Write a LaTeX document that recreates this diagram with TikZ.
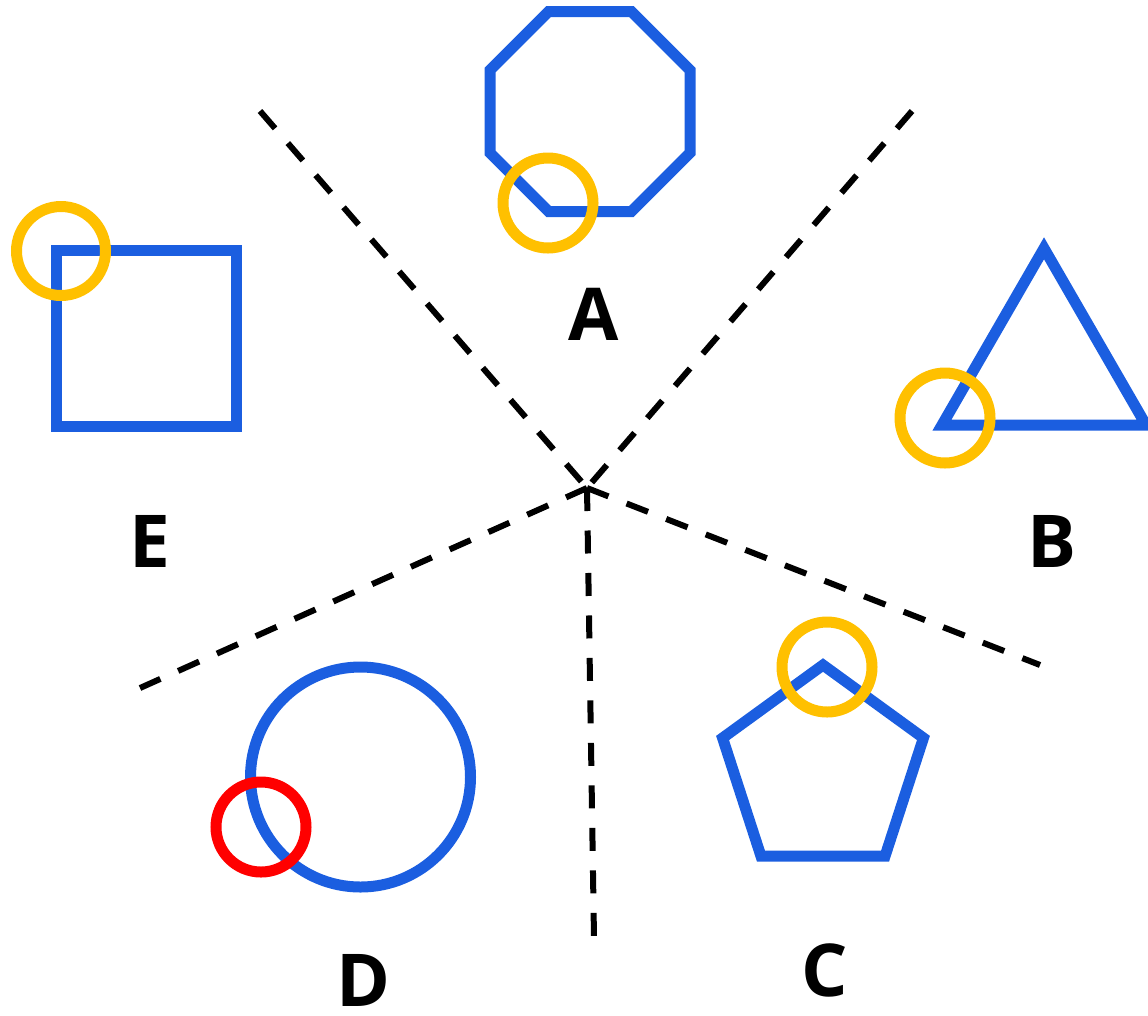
\documentclass[tikz,border=0pt]{standalone}
\usepackage{fontspec}
\setmainfont{Open Sans}
\usepackage{tikz}
\usepackage{xcolor}
\usetikzlibrary{calc}
\definecolor{shblue}{RGB}{27, 94, 224}
\definecolor{mkyellow}{RGB}{255, 192, 0}
\definecolor{mkred}{RGB}{255, 0, 0}

\begin{document}
\begin{tikzpicture}[x=0.02cm, y=-0.02cm,
    shapeline/.style={draw=shblue, line width=0.22cm},
    marker/.style={draw=mkyellow, line width=0.22cm},
    ray/.style={black, line width=0.12cm, dash pattern=on 0.46cm off 0.39cm},
    lbl/.style={font=\fontsize{41.5}{48}\selectfont\bfseries, inner sep=0pt}]
    \useasboundingbox (0,0) rectangle (1148,1015);

    % Dashed rays from the centre
    \coordinate (o) at (587,488);
    \coordinate (ul) at (260,111);
    \coordinate (ur) at (912,111);
    \coordinate (lr) at (1040,665);
    \coordinate (bot) at (594,938);
    \coordinate (ll) at (140,688);
    \foreach \p in {ul,ur} \draw[ray] (\p) -- (o);
    \foreach \p in {lr,bot,ll} \draw[ray] (o) -- (\p);

    % A: octagon
    \draw[shapeline, shift={(590,111.5)}] (22.5:108.24)
      \foreach \k in {1,...,7} { -- (22.5+45*\k:108.24) } -- cycle;
    % B: triangle
    \draw[shapeline] (942,425) -- (1044,248.3) -- (1146,425) -- cycle;
    % C: pentagon
    \draw[shapeline, shift={(823,770.6)}] (-90:105.6)
      \foreach \k in {1,...,4} { -- (-90+72*\k:105.6) } -- cycle;
    % D: circle
    \draw[shapeline] (360.5,777) circle (110);
    % E: square
    \draw[shapeline] (56,250.5) rectangle (236,426);

    % Markers
    \draw[marker] (548,203) circle (45);
    \draw[marker] (945,418) circle (45);
    \draw[marker] (827,667) circle (45);
    \draw[marker] (61,251) circle (44.5);
    \draw[marker, draw=mkred] (261,827) circle (45);

    % Labels
    \node[lbl] (labA) at (594,314) {A};
    \node[lbl] (labB) at (1052,541) {B};
    \node[lbl] (labC) at (825,970) {C};
    \node[lbl] (labD) at (363,980) {D};
    \node[lbl] (labE) at (150,541) {E};
\end{tikzpicture}
\end{document}
